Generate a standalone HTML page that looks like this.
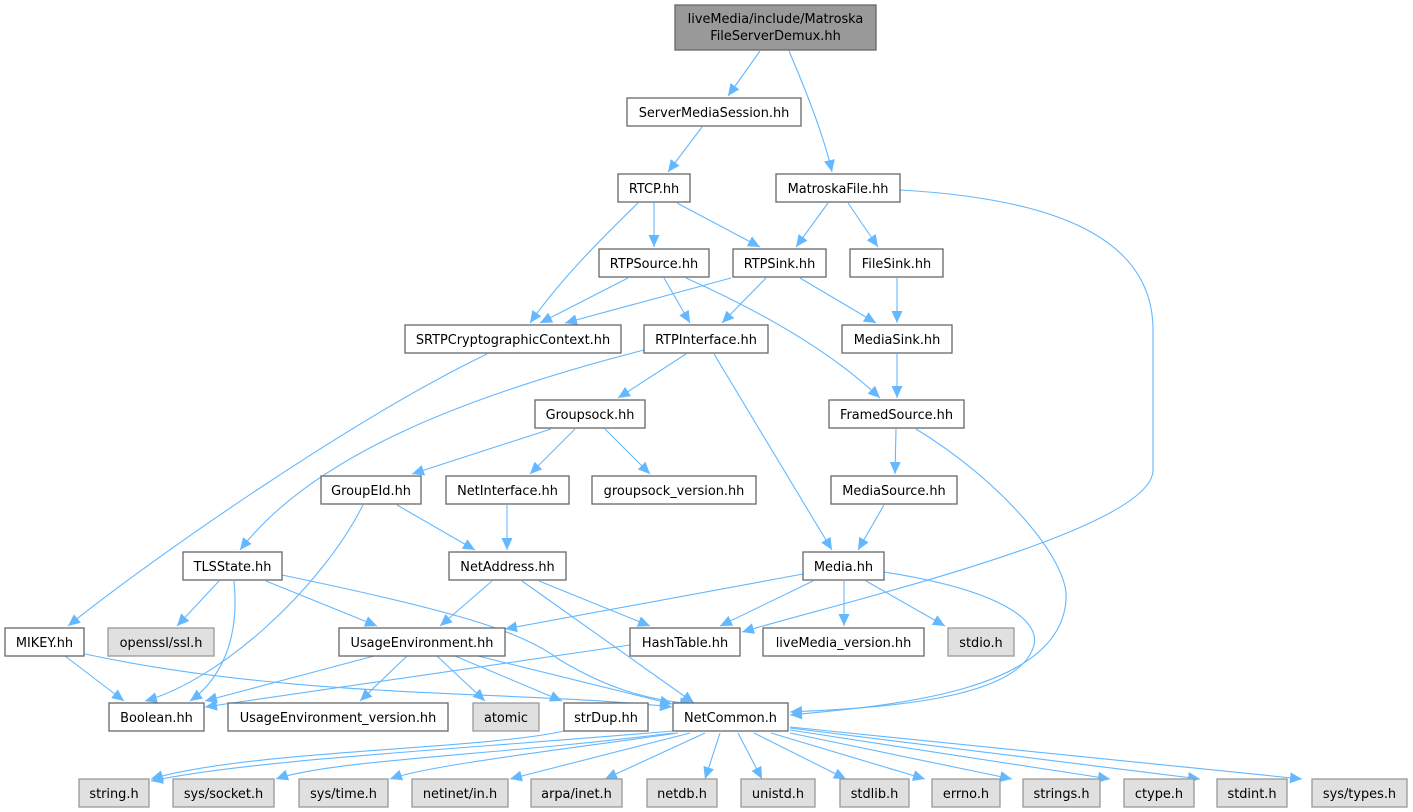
<!DOCTYPE html>
<html><head><meta charset="utf-8"><style>
html,body{margin:0;padding:0;background:#fff;}
svg{display:block;}
text{font-family:"DejaVu Sans","Liberation Sans",sans-serif;font-size:12.9px;fill:#000;text-anchor:middle;}
.n{fill:#fff;stroke:#666;stroke-width:1.3;}
.g{fill:#e0e0e0;stroke:#999;stroke-width:1.3;}
.e{fill:none;stroke:#63b8ff;stroke-width:1.1;}
</style></head><body>
<svg width="1413" height="812" viewBox="0 0 1413 812" xmlns="http://www.w3.org/2000/svg">
<defs><marker id="a" markerUnits="userSpaceOnUse" markerWidth="13" markerHeight="11" refX="12" refY="5.5" orient="auto"><polygon points="0,0 12,5.5 0,11" fill="#63b8ff"/></marker></defs>
<g marker-end="url(#a)">
<path class="e" d="M760,51 L728,96"/>
<path class="e" d="M789,51 C810,100 825,140 832,172"/>
<path class="e" d="M702,127 L668,172"/>
<path class="e" d="M638,203 C600,240 560,280 530,323"/>
<path class="e" d="M654,203 L654,247"/>
<path class="e" d="M677,203 L760,247"/>
<path class="e" d="M828,203 L796,247"/>
<path class="e" d="M848,203 L878,247"/>
<path class="e" d="M900,190 C1080,200 1153,250 1153,330 L1153,470 C1153,530 850,600 742,632"/>
<path class="e" d="M628,278 L540,323"/>
<path class="e" d="M664,278 L690,323"/>
<path class="e" d="M686,278 C780,320 840,360 880,398"/>
<path class="e" d="M731,278 L565,323"/>
<path class="e" d="M766,278 L722,323"/>
<path class="e" d="M800,278 L876,323"/>
<path class="e" d="M897,278 L897,323"/>
<path class="e" d="M487,354 C350,420 150,560 68,626"/>
<path class="e" d="M644,350 C450,400 310,460 240,550"/>
<path class="e" d="M686,354 L618,398"/>
<path class="e" d="M714,354 L832,550"/>
<path class="e" d="M897,354 L897,398"/>
<path class="e" d="M896,429 L895,474"/>
<path class="e" d="M916,429 C1000,480 1070,560 1066,600 C1060,690 900,705 790,715"/>
<path class="e" d="M551,429 L412,474"/>
<path class="e" d="M575,429 L530,474"/>
<path class="e" d="M605,429 L650,474"/>
<path class="e" d="M397,505 L475,550"/>
<path class="e" d="M363,505 C320,590 220,680 145,701"/>
<path class="e" d="M507,505 L507,550"/>
<path class="e" d="M884,505 L858,550"/>
<path class="e" d="M219,581 L177,626"/>
<path class="e" d="M234,581 C240,640 220,680 190,701"/>
<path class="e" d="M266,581 L377,626"/>
<path class="e" d="M282,575 C450,610 520,630 560,660 C610,690 650,700 692,704"/>
<path class="e" d="M492,581 L440,626"/>
<path class="e" d="M522,581 L694,703"/>
<path class="e" d="M539,581 L650,626"/>
<path class="e" d="M803,574 L505,629"/>
<path class="e" d="M813,581 L720,626"/>
<path class="e" d="M844,581 L844,626"/>
<path class="e" d="M866,581 L945,626"/>
<path class="e" d="M884,572 C1000,590 1040,620 1034,645 C1020,700 880,708 790,712"/>
<path class="e" d="M65,656 L124,701"/>
<path class="e" d="M85,654 C300,700 520,690 672,707"/>
<path class="e" d="M374,656 L205,701"/>
<path class="e" d="M407,656 L360,701"/>
<path class="e" d="M437,656 L485,701"/>
<path class="e" d="M455,656 L562,701"/>
<path class="e" d="M478,656 L672,704"/>
<path class="e" d="M630,645 L205,707"/>
<path class="e" d="M564,731 C480,750 250,750 151,779"/>
<path class="e" d="M673,731 C450,750 250,760 151,781"/>
<path class="e" d="M673,733 C500,755 330,760 276,779"/>
<path class="e" d="M678,733 C560,750 430,765 390,779"/>
<path class="e" d="M690,733 L510,779"/>
<path class="e" d="M705,733 L605,779"/>
<path class="e" d="M720,733 L705,779"/>
<path class="e" d="M738,733 L762,779"/>
<path class="e" d="M754,733 L846,779"/>
<path class="e" d="M771,733 L925,779"/>
<path class="e" d="M790,733 L1012,779"/>
<path class="e" d="M790,730 L1110,779"/>
<path class="e" d="M790,728 L1200,779"/>
<path class="e" d="M790,727 L1302,779"/>
</g>
<rect x="675" y="5" width="201" height="45" fill="#999" stroke="#666" stroke-width="1.3"/>
<text x="775.5" y="23">liveMedia/include/Matroska</text><text x="775.5" y="40">FileServerDemux.hh</text>
<rect class="n" x="627" y="98" width="174" height="28"/><text x="714" y="117">ServerMediaSession.hh</text>
<rect class="n" x="618" y="174" width="72" height="28"/><text x="654" y="193">RTCP.hh</text>
<rect class="n" x="776" y="174" width="124" height="28"/><text x="838" y="193">MatroskaFile.hh</text>
<rect class="n" x="599" y="249" width="110" height="28"/><text x="654" y="268">RTPSource.hh</text>
<rect class="n" x="733" y="249" width="93" height="28"/><text x="779.5" y="268">RTPSink.hh</text>
<rect class="n" x="850" y="249" width="93" height="28"/><text x="896.5" y="268">FileSink.hh</text>
<rect class="n" x="405" y="325" width="216" height="28"/><text x="513" y="344">SRTPCryptographicContext.hh</text>
<rect class="n" x="644" y="325" width="124" height="28"/><text x="706" y="344">RTPInterface.hh</text>
<rect class="n" x="842" y="325" width="110" height="28"/><text x="897" y="344">MediaSink.hh</text>
<rect class="n" x="535" y="400" width="110" height="28"/><text x="590" y="419">Groupsock.hh</text>
<rect class="n" x="829" y="400" width="135" height="28"/><text x="896.5" y="419">FramedSource.hh</text>
<rect class="n" x="321" y="476" width="100" height="28"/><text x="371" y="495">GroupEId.hh</text>
<rect class="n" x="446" y="476" width="123" height="28"/><text x="507.5" y="495">NetInterface.hh</text>
<rect class="n" x="592" y="476" width="164" height="28"/><text x="674" y="495">groupsock_version.hh</text>
<rect class="n" x="831" y="476" width="126" height="28"/><text x="894" y="495">MediaSource.hh</text>
<rect class="n" x="183" y="552" width="99" height="28"/><text x="232.5" y="571">TLSState.hh</text>
<rect class="n" x="449" y="552" width="117" height="28"/><text x="507.5" y="571">NetAddress.hh</text>
<rect class="n" x="803" y="552" width="81" height="28"/><text x="843.5" y="571">Media.hh</text>
<rect class="n" x="5" y="628" width="79" height="28"/><text x="44.5" y="647">MIKEY.hh</text>
<rect class="g" x="108" y="628" width="106" height="28"/><text x="161" y="647">openssl/ssl.h</text>
<rect class="n" x="339" y="628" width="166" height="28"/><text x="422" y="647">UsageEnvironment.hh</text>
<rect class="n" x="630" y="628" width="110" height="28"/><text x="685" y="647">HashTable.hh</text>
<rect class="n" x="763" y="628" width="161" height="28"/><text x="843.5" y="647">liveMedia_version.hh</text>
<rect class="g" x="948" y="628" width="66" height="28"/><text x="981" y="647">stdio.h</text>
<rect class="n" x="109" y="703" width="95" height="28"/><text x="156.5" y="722">Boolean.hh</text>
<rect class="n" x="228" y="703" width="220" height="28"/><text x="338" y="722">UsageEnvironment_version.hh</text>
<rect class="g" x="473" y="703" width="66" height="28"/><text x="506" y="722">atomic</text>
<rect class="n" x="564" y="703" width="84" height="28"/><text x="606" y="722">strDup.hh</text>
<rect class="n" x="673" y="703" width="115" height="28"/><text x="730.5" y="722">NetCommon.h</text>
<rect class="g" x="79" y="779" width="70" height="28"/><text x="114" y="798">string.h</text>
<rect class="g" x="173" y="779" width="101" height="28"/><text x="223.5" y="798">sys/socket.h</text>
<rect class="g" x="299" y="779" width="89" height="28"/><text x="343.5" y="798">sys/time.h</text>
<rect class="g" x="412" y="779" width="96" height="28"/><text x="460" y="798">netinet/in.h</text>
<rect class="g" x="531" y="779" width="91" height="28"/><text x="576.5" y="798">arpa/inet.h</text>
<rect class="g" x="647" y="779" width="70" height="28"/><text x="682" y="798">netdb.h</text>
<rect class="g" x="741" y="779" width="74" height="28"/><text x="778" y="798">unistd.h</text>
<rect class="g" x="840" y="779" width="69" height="28"/><text x="874.5" y="798">stdlib.h</text>
<rect class="g" x="932" y="779" width="68" height="28"/><text x="966" y="798">errno.h</text>
<rect class="g" x="1023" y="779" width="77" height="28"/><text x="1061.5" y="798">strings.h</text>
<rect class="g" x="1124" y="779" width="70" height="28"/><text x="1159" y="798">ctype.h</text>
<rect class="g" x="1217" y="779" width="70" height="28"/><text x="1252" y="798">stdint.h</text>
<rect class="g" x="1312" y="779" width="95" height="28"/><text x="1359.5" y="798">sys/types.h</text>
</svg>
</body></html>
